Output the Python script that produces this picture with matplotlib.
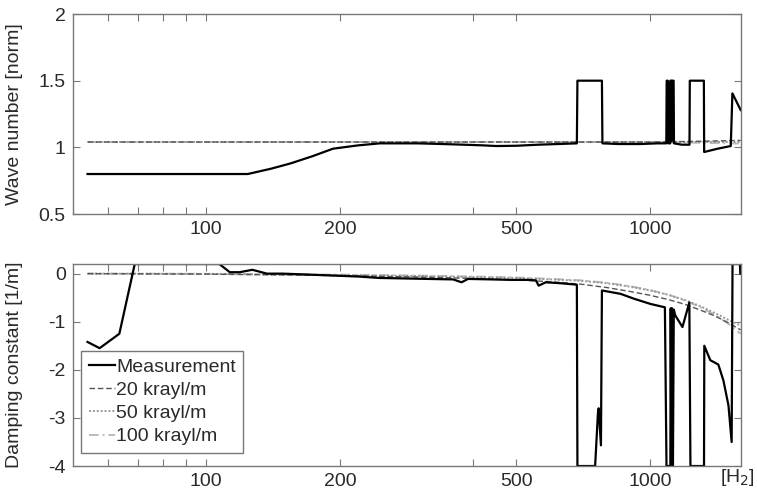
import matplotlib
matplotlib.use("Agg")
import matplotlib.pyplot as plt
from matplotlib.ticker import FixedLocator, FixedFormatter, NullLocator

plt.rcParams['font.family'] = ['Liberation Sans', 'DejaVu Sans']

# ---- data ----
# wave number (normalised) - measurement
wn_f = [54, 124, 140, 155, 174, 193, 220, 246, 300, 340, 380, 420, 450, 500, 560, 620, 684,
        686, 779, 781, 850, 950, 1040, 1088, 1090, 1097, 1099, 1110, 1112, 1114, 1116, 1118,
        1121, 1130, 1132, 1180, 1227, 1229, 1322, 1324, 1420, 1520, 1533, 1600]
wn_v = [0.80, 0.80, 0.84, 0.88, 0.935, 0.99, 1.015, 1.03, 1.03, 1.025, 1.02, 1.015, 1.01, 1.012, 1.02, 1.025, 1.03,
        1.50, 1.50, 1.03, 1.025, 1.025, 1.03, 1.03, 1.50, 1.50, 1.03, 1.03, 1.50, 1.05, 1.50, 1.05,
        1.50, 1.50, 1.03, 1.02, 1.02, 1.50, 1.50, 0.965, 0.99, 1.01, 1.405, 1.28]

# model curves
model_f = [54, 100, 200, 300, 400, 500, 600, 700, 800, 900, 1000, 1100, 1200, 1300, 1400, 1500, 1600]
wn_20 = [1.04, 1.04, 1.04, 1.04, 1.04, 1.04, 1.04, 1.04, 1.04, 1.04, 1.04, 1.042, 1.044, 1.046, 1.048, 1.05, 1.052]
wn_50 = [1.04, 1.04, 1.04, 1.04, 1.04, 1.04, 1.04, 1.04, 1.04, 1.04, 1.04, 1.04, 1.04, 1.04, 1.04, 1.04, 1.04]
wn_100 = [1.04, 1.04, 1.04, 1.04, 1.04, 1.04, 1.04, 1.04, 1.04, 1.04, 1.04, 1.038, 1.036, 1.034, 1.032, 1.03, 1.028]

# damping constant - measurement
dc_f = [54, 57.5, 63.7, 69, 107, 113, 119, 127, 137, 149, 170, 193, 220, 246, 280, 316, 360, 376,
        389, 440, 488, 530, 553, 561, 582, 630, 684, 686, 752, 763, 766, 775, 779, 858, 919,
        1002, 1080, 1089, 1111, 1113, 1117, 1121, 1126, 1131, 1140, 1183, 1226, 1233, 1323,
        1325, 1367, 1425, 1463, 1502, 1527, 1534, 1594, 1597, 1600]
dc_v = [-1.42, -1.55, -1.25, 0.2, 0.2, 0.03, 0.03, 0.08, 0.0, 0.0, -0.02, -0.04, -0.06, -0.09, -0.1, -0.11, -0.12, -0.18,
        -0.11, -0.12, -0.13, -0.13, -0.14, -0.25, -0.18, -0.2, -0.23, -4.0, -4.0, -2.9, -2.8, -3.57, -0.35, -0.42, -0.52,
        -0.63, -0.70, -4.0, -4.0, -0.72, -4.0, -0.72, -4.0, -0.75, -0.87, -1.11, -0.6, -4.0, -4.0,
        -1.5, -1.8, -1.89, -2.22, -2.74, -3.5, 0.2, 0.2, 0.0, 0.0]

dc_20 = [0.0, -0.01, -0.04, -0.07, -0.1, -0.13, -0.17, -0.22, -0.29, -0.37, -0.45, -0.54, -0.64, -0.76, -0.88, -1.02, -1.17]
dc_50 = [0.0, -0.005, -0.03, -0.05, -0.07, -0.09, -0.12, -0.15, -0.2, -0.27, -0.35, -0.44, -0.55, -0.68, -0.82, -0.96, -1.08]
dc_100 = [0.0, -0.005, -0.02, -0.04, -0.06, -0.08, -0.11, -0.14, -0.19, -0.26, -0.34, -0.44, -0.56, -0.70, -0.86, -1.04, -1.25]

x_ticks = [60, 70, 80, 90, 100, 200, 400, 500, 1000]
x_labels = ['', '', '', '', '100', '200', '', '500', '1000']
wn_ticks = [0.5, 1, 1.5, 2]
wn_labels = ['0.5', '1', '1.5', '2']
dc_ticks = [-4, -3, -2, -1, 0]
dc_labels = ['-4', '-3', '-2', '-1', '0']

# ---- figure ----
fig = plt.figure(figsize=(7.57, 4.99), dpi=100)
ax1 = fig.add_axes([0.0960, 0.5711, 0.8824, 0.4008])
ax2 = fig.add_axes([0.0960, 0.0661, 0.8824, 0.4048])

txt = '#2a2a2a'
spine = '#777777'
fs = 14

styles = dict(
    meas=dict(color='black', lw=1.6, ls='-'),
    k20=dict(color='#555555', lw=1.0, ls=(0, (4, 2))),
    k50=dict(color='#999999', lw=1.4, ls=(0, (1, 1))),
    k100=dict(color='#bbbbbb', lw=1.4, ls=(0, (5, 2, 1, 2))),
)

ax1.plot(model_f, wn_100, **styles['k100'])
ax1.plot(model_f, wn_50, **styles['k50'])
ax1.plot(model_f, wn_20, **styles['k20'])
ax1.plot(wn_f, wn_v, **styles['meas'])

l100, = ax2.plot(model_f, dc_100, **styles['k100'], label='100 krayl/m')
l50, = ax2.plot(model_f, dc_50, **styles['k50'], label='50 krayl/m')
l20, = ax2.plot(model_f, dc_20, **styles['k20'], label='20 krayl/m')
lm, = ax2.plot(dc_f, dc_v, **styles['meas'], label='Measurement')

for ax in (ax1, ax2):
    ax.set_xscale('log')
    ax.set_xlim(50, 1600)
    ax.xaxis.set_major_locator(FixedLocator(x_ticks))
    ax.xaxis.set_major_formatter(FixedFormatter(x_labels))
    ax.xaxis.set_minor_locator(NullLocator())
    ax.tick_params(direction='in', top=True, right=True, length=5, width=0.8,
                   color=spine, labelsize=fs, labelcolor=txt, pad=5)
    for s in ax.spines.values():
        s.set_color(spine)
        s.set_linewidth(1.0)

ax1.set_ylim(0.5, 2)
ax1.yaxis.set_major_locator(FixedLocator(wn_ticks))
ax1.yaxis.set_major_formatter(FixedFormatter(wn_labels))
ax1.set_ylabel('Wave number [norm]', fontsize=fs, color=txt, labelpad=6)

ax2.set_ylim(-4, 0.2)
ax2.yaxis.set_major_locator(FixedLocator(dc_ticks))
ax2.yaxis.set_major_formatter(FixedFormatter(dc_labels))
ax2.set_ylabel('Damping constant [1/m]', fontsize=fs, color=txt, labelpad=6)

fig.text(0.951, 0.044, '[H$_2$]', fontsize=14, color=txt, ha='left', va='center')
ax1.yaxis.set_label_coords(-0.075, 0.5)
ax2.yaxis.set_label_coords(-0.075, 0.5)

leg = ax2.legend(handles=[lm, l20, l50, l100], loc='lower left',
                 bbox_to_anchor=(0.0124, 0.064), borderaxespad=0,
                 fontsize=fs, frameon=True, fancybox=False, framealpha=1,
                 edgecolor=spine, labelspacing=0.28, handlelength=1.35,
                 handletextpad=0.05, borderpad=0.4, labelcolor=txt)
leg.get_frame().set_linewidth(1.0)

fig.savefig('out.png', dpi=100)
